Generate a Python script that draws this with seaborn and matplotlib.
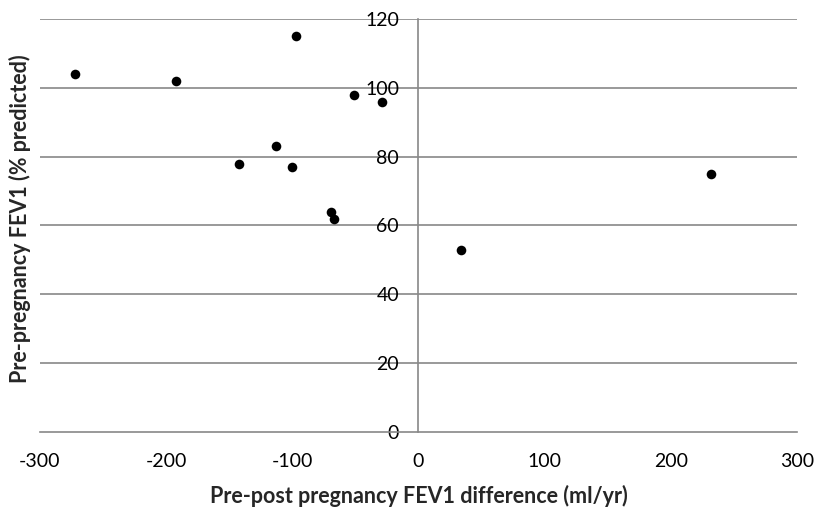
import matplotlib
matplotlib.use('Agg')
import matplotlib.pyplot as plt
import seaborn as sns
import pandas as pd

# FEV1 difference (ml/yr) vs pre-pregnancy FEV1 (% predicted)
fev1_diff = [-272, -192, -142, -113, -100, -97, -69, -67, -51, -29, 34, 232]
fev1_pred = [104, 102, 78, 83, 77, 115, 64, 62, 98, 96, 53, 75]
x_ticks = [-300, -200, -100, 0, 100, 200, 300]
y_ticks = [0, 20, 40, 60, 80, 100, 120]

df = pd.DataFrame({'diff': fev1_diff, 'pred': fev1_pred})

sns.set_style('white')
plt.rcParams['font.family'] = ['Lato', 'DejaVu Sans']
plt.rcParams['axes.unicode_minus'] = False

fig = plt.figure(figsize=(8.19, 5.13), dpi=100)
ax = fig.add_axes([0.0488, 0.158, 0.9243, 0.805])

grid_color = '#888888'
for yv in y_ticks[1:]:
    ax.axhline(yv, color=grid_color, linewidth=1.2, zorder=0)

sns.scatterplot(data=df, x='diff', y='pred', ax=ax, color='black',
                s=48, edgecolor='black', linewidth=0, zorder=3)

ax.set_xlim(-300, 300)
ax.set_ylim(0, 120)
ax.set_xticks(x_ticks)
ax.set_yticks(y_ticks)

ax.spines['left'].set_position(('data', 0))
for side in ['top', 'right']:
    ax.spines[side].set_visible(False)
for side in ['left', 'bottom']:
    ax.spines[side].set_color(grid_color)
    ax.spines[side].set_linewidth(1.2)

ax.tick_params(axis='both', which='major', direction='out', length=6,
               width=1.2, color=grid_color, labelsize=14, labelcolor='black')
ax.tick_params(axis='y', pad=8)
ax.tick_params(axis='x', pad=9)

ax.set_xlabel('Pre-post pregnancy FEV1 difference (ml/yr)', fontsize=15.5,
              fontweight='bold', labelpad=11)
ax.set_ylabel('')
fig.text(0.024, 0.573, 'Pre-pregnancy FEV1 (% predicted)', rotation=90,
         fontsize=15.5, fontweight='bold', ha='center', va='center')

fig.savefig('out.png', dpi=100)
